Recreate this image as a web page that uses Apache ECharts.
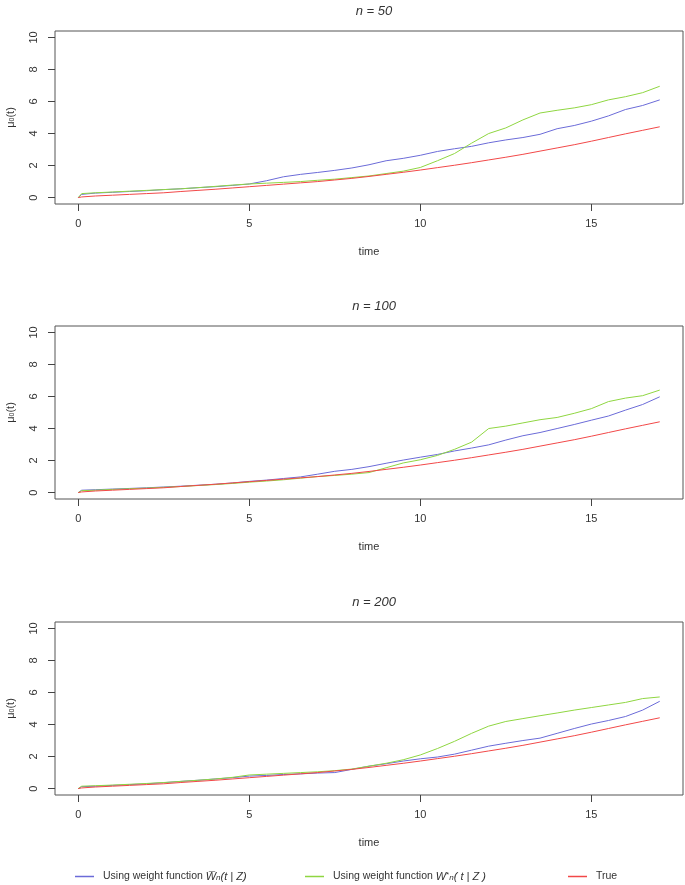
<!DOCTYPE html>
<html>
<head>
<meta charset="utf-8">
<script src="https://cdn.jsdelivr.net/npm/echarts@6/dist/echarts.min.js"></script>
<style>
html,body{margin:0;padding:0;background:#fff;}
#chart{width:685px;height:885px;}
</style>
</head>
<body>
<div id="chart"></div>
<script>
// time grid (x values)
const timeGrid = [0,0.1,0.5,1,1.5,2,2.5,3,3.5,4,4.5,5,5.5,6,6.5,7,7.5,8,8.5,9,9.5,10,10.5,11,11.5,12,12.5,13,13.5,14,14.5,15,15.5,16,16.5,17];
const xTicks = [0,5,10,15];
const yTicks = [0,2,4,6,8,10];
const panelTitles = ['n = 50','n = 100','n = 200'];

// True mean function (same in every panel)
const trueVals = [0,0.04,0.1,0.15,0.2,0.25,0.3,0.38,0.45,0.52,0.6,0.68,0.76,0.84,0.92,1.0,1.1,1.2,1.32,1.45,1.58,1.72,1.87,2.02,2.18,2.35,2.52,2.7,2.9,3.1,3.3,3.52,3.75,3.98,4.2,4.42];

// n = 50
const wbar50 = [0,0.2,0.28,0.33,0.38,0.43,0.5,0.55,0.62,0.68,0.76,0.85,1.05,1.3,1.45,1.57,1.7,1.85,2.05,2.3,2.45,2.64,2.88,3.05,3.2,3.42,3.6,3.75,3.95,4.3,4.5,4.77,5.1,5.5,5.75,6.1];
const wstar50 = [0,0.25,0.3,0.35,0.4,0.45,0.5,0.55,0.62,0.7,0.78,0.85,0.9,0.95,1.0,1.08,1.15,1.25,1.35,1.5,1.65,1.88,2.3,2.75,3.4,4.0,4.35,4.85,5.28,5.45,5.6,5.8,6.1,6.3,6.55,6.95];

// n = 100
const wbar100 = [0,0.15,0.18,0.22,0.26,0.3,0.35,0.4,0.46,0.52,0.6,0.7,0.78,0.88,0.98,1.15,1.33,1.45,1.62,1.83,2.03,2.21,2.38,2.6,2.78,2.98,3.28,3.55,3.75,4.0,4.25,4.52,4.78,5.15,5.5,5.98];
const wstar100 = [0,0.12,0.15,0.2,0.24,0.28,0.33,0.38,0.44,0.5,0.57,0.65,0.72,0.8,0.9,1.0,1.07,1.15,1.25,1.55,1.85,2.05,2.32,2.7,3.15,4.0,4.15,4.35,4.55,4.69,4.95,5.24,5.68,5.9,6.05,6.4];

// n = 200
const wbar200 = [0,0.12,0.15,0.2,0.25,0.3,0.37,0.45,0.52,0.6,0.68,0.78,0.82,0.88,0.92,0.97,1.0,1.2,1.4,1.55,1.72,1.86,1.97,2.15,2.4,2.65,2.83,3.0,3.15,3.45,3.75,4.03,4.25,4.5,4.9,5.45];
const wstar200 = [0,0.15,0.18,0.22,0.27,0.32,0.38,0.45,0.52,0.6,0.7,0.85,0.9,0.95,1.0,1.05,1.12,1.22,1.4,1.58,1.8,2.1,2.5,2.95,3.45,3.9,4.19,4.37,4.55,4.72,4.9,5.06,5.22,5.38,5.62,5.72];

const panels = [
  {title: panelTitles[0], wbar: wbar50, wstar: wstar50},
  {title: panelTitles[1], wbar: wbar100, wstar: wstar100},
  {title: panelTitles[2], wbar: wbar200, wstar: wstar200}
];

const COL_BLUE = '#6b6bd8', COL_GREEN = '#8fd641', COL_RED = '#f24848';
const TXT = '#333';
const FONT = 'Liberation Sans, Arial, sans-serif';

const gridTops = [31, 326, 622];
const gridH = 173;

const pair = arr => timeGrid.map((t, i) => [t, arr[i]]);

const option = {
  animation: false,
  textStyle: {fontFamily: FONT},
  title: [], grid: [], xAxis: [], yAxis: [], series: [],
  legend: []
};

panels.forEach((p, k) => {
  const top = gridTops[k];
  option.title.push({
    text: p.title, left: 369, top: top - 31, textAlign: 'center',
    textStyle: {fontSize: 13, fontStyle: 'italic', fontWeight: 'normal', color: TXT, fontFamily: FONT}
  });
  option.grid.push({left: 55, top: top, width: 628, height: gridH, show: true,
    outerBoundsMode: 'none', containLabel: false,
    borderColor: '#555', borderWidth: 1, backgroundColor: 'transparent'});
  option.xAxis.push({
    type: 'value', gridIndex: k, min: -0.68, max: 17.68,
    name: 'time', nameLocation: 'middle', nameGap: 42,
    nameTextStyle: {fontSize: 11, color: TXT, fontFamily: FONT},
    axisLine: {show: false, onZero: false},
    axisTick: {show: true, length: 7, lineStyle: {color: '#444'}, customValues: xTicks},
    axisLabel: {customValues: xTicks, fontSize: 11, color: TXT, margin: 14, fontFamily: FONT},
    splitLine: {show: false}
  });
  option.yAxis.push({
    type: 'value', gridIndex: k, min: -0.4, max: 10.4,
    name: 'μ{s|0}(t)', nameLocation: 'middle', nameGap: 39, nameRotate: 90,
    nameTextStyle: {fontSize: 11, color: TXT, fontFamily: FONT,
      rich: {s: {fontSize: 7, color: TXT, verticalAlign: 'bottom'}}},
    axisLine: {show: false, onZero: false},
    axisTick: {show: true, length: 7, lineStyle: {color: '#444'}, customValues: yTicks},
    axisLabel: {customValues: yTicks, fontSize: 11, color: TXT, margin: 16, rotate: 90, fontFamily: FONT},
    splitLine: {show: false}
  });
  const mk = (name, data, color) => ({
    name: name, type: 'line', xAxisIndex: k, yAxisIndex: k, data: pair(data),
    showSymbol: false, symbol: 'none', lineStyle: {color: color, width: 1}, itemStyle: {color: color},
    emphasis: {disabled: true}
  });
  option.series.push(mk('Wbar', p.wbar, COL_BLUE));
  option.series.push(mk('Wstar', p.wstar, COL_GREEN));
  option.series.push(mk('True', trueVals, COL_RED));
});

const legendRich = {
  i: {fontStyle: 'italic', fontSize: 11, color: TXT},
  s: {fontStyle: 'italic', fontSize: 8, color: TXT, verticalAlign: 'bottom'},
  u: {fontSize: 8, color: TXT, verticalAlign: 'top'}
};
const legendLabels = {
  'Wbar': 'Using weight function {i|W\u0305}{s|n}{i|(t | Z)}',
  'Wstar': 'Using weight function {i|W}{u|*}{s|n}{i|( t | Z )}',
  'True': 'True'
};
const legendLeft = {'Wbar': 70, 'Wstar': 300, 'True': 563};
['Wbar','Wstar','True'].forEach(n => {
  option.legend.push({
    data: [n], left: legendLeft[n], top: 866, itemWidth: 19, itemHeight: 1.5, itemGap: 10,
    icon: 'rect', selectedMode: false,
    formatter: name => legendLabels[name],
    textStyle: {fontSize: 10.5, color: TXT, fontFamily: FONT, rich: legendRich, padding: [0,0,0,4]}
  });
});

const chart = echarts.init(document.getElementById('chart'), null, {renderer: 'canvas'});
chart.setOption(option);
</script>
</body>
</html>
